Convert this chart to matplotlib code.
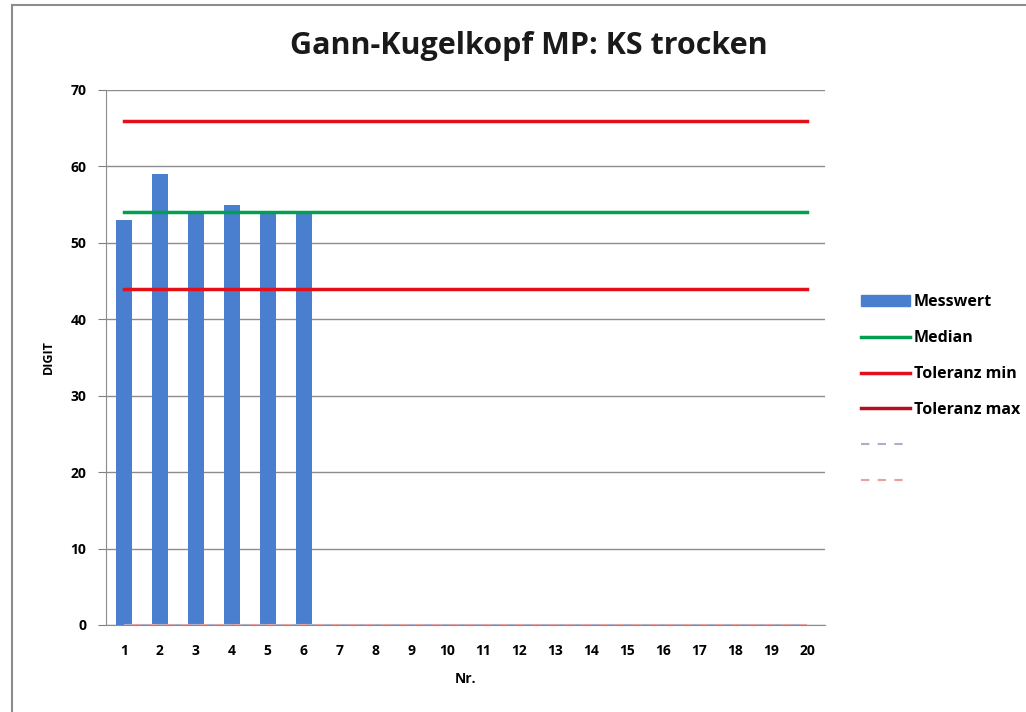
import numpy as np
import matplotlib
matplotlib.use('Agg')
import matplotlib.pyplot as plt
from matplotlib.lines import Line2D
from matplotlib.patches import Patch

plt.rcParams['font.family'] = ['Open Sans', 'DejaVu Sans']

nr = list(range(1, 21))
messwert = [53, 59, 54, 55, 54, 54]
median = 54
tol_min = 44
tol_max = 66
null_a = [0] * 20
null_b = [0] * 20

fig = plt.figure(figsize=(10.26, 7.12), dpi=100)
ax = fig.add_axes([0.1033, 0.1222, 0.701, 0.7514])

xs = np.arange(len(nr))
ax.bar(xs[:len(messwert)], messwert, width=0.45, color='#4A7FD0', zorder=3)
ax.plot(xs, [median] * len(nr), color='#00A050', lw=2.5, zorder=4)
ax.plot(xs, [tol_min] * len(nr), color='#E3101A', lw=2.5, zorder=4)
ax.plot(xs, [tol_max] * len(nr), color='#E3101A', lw=2.5, zorder=4)
ax.plot(xs, null_a, color='#A8B0CC', lw=1.5, ls=(0, (4, 4)), zorder=4)
ax.plot(xs, null_b, color='#EBA0A0', lw=1.5, ls=(4, (4, 4)), zorder=4)

ax.set_xlim(-0.5, len(nr) - 0.5)
ax.set_ylim(0, 70)
ax.set_yticks(range(0, 71, 10))
ax.set_xticks(xs)
ax.set_xticklabels([str(n) for n in nr], fontsize=10, fontweight='bold')
for lab in ax.get_yticklabels():
    lab.set_fontsize(10)
    lab.set_fontweight('bold')
ax.tick_params(axis='x', length=0, pad=14)
ax.tick_params(axis='y', length=6, color='#808080', pad=8)
ax.yaxis.grid(True, color='#8C8C8C', lw=1)
ax.set_axisbelow(True)
for s in ['top', 'right']:
    ax.spines[s].set_visible(False)
for s in ['left', 'bottom']:
    ax.spines[s].set_color('#8C8C8C')

ax.set_ylabel('DIGIT', fontsize=9, fontweight='bold', labelpad=11)
ax.set_xlabel('Nr.', fontsize=10, fontweight='bold', labelpad=10)
fig.text(0.515, 0.935, 'Gann-Kugelkopf MP: KS trocken', ha='center', va='center',
         fontsize=22, fontweight='bold', color='#1A1A1A')

handles = [
    Patch(color='#4A7FD0'),
    Line2D([], [], color='#00A050', lw=2.5),
    Line2D([], [], color='#E3101A', lw=2.5),
    Line2D([], [], color='#B01020', lw=2.5),
    Line2D([], [], color='#A8B0CC', lw=1.5, ls=(0, (4, 4))),
    Line2D([], [], color='#EBA0A0', lw=1.5, ls=(0, (4, 4))),
]
labels = ['Messwert', 'Median', 'Toleranz min', 'Toleranz max', '', '']
leg = fig.legend(handles, labels, loc='upper left', bbox_to_anchor=(0.825, 0.607),
                 frameon=False, fontsize=11.5, handlelength=3.1, handletextpad=0.2,
                 labelspacing=1.25)
for t in leg.get_texts():
    t.set_fontweight('bold')

# outer frame (left and top edges visible)
fig.add_artist(Line2D([0.012, 0.012], [0, 0.993], color='#8C8C8C', lw=1.5,
                      transform=fig.transFigure))
fig.add_artist(Line2D([0.012, 1.0], [0.993, 0.993], color='#8C8C8C', lw=1.5,
                      transform=fig.transFigure))

fig.savefig('out.png', dpi=100)
